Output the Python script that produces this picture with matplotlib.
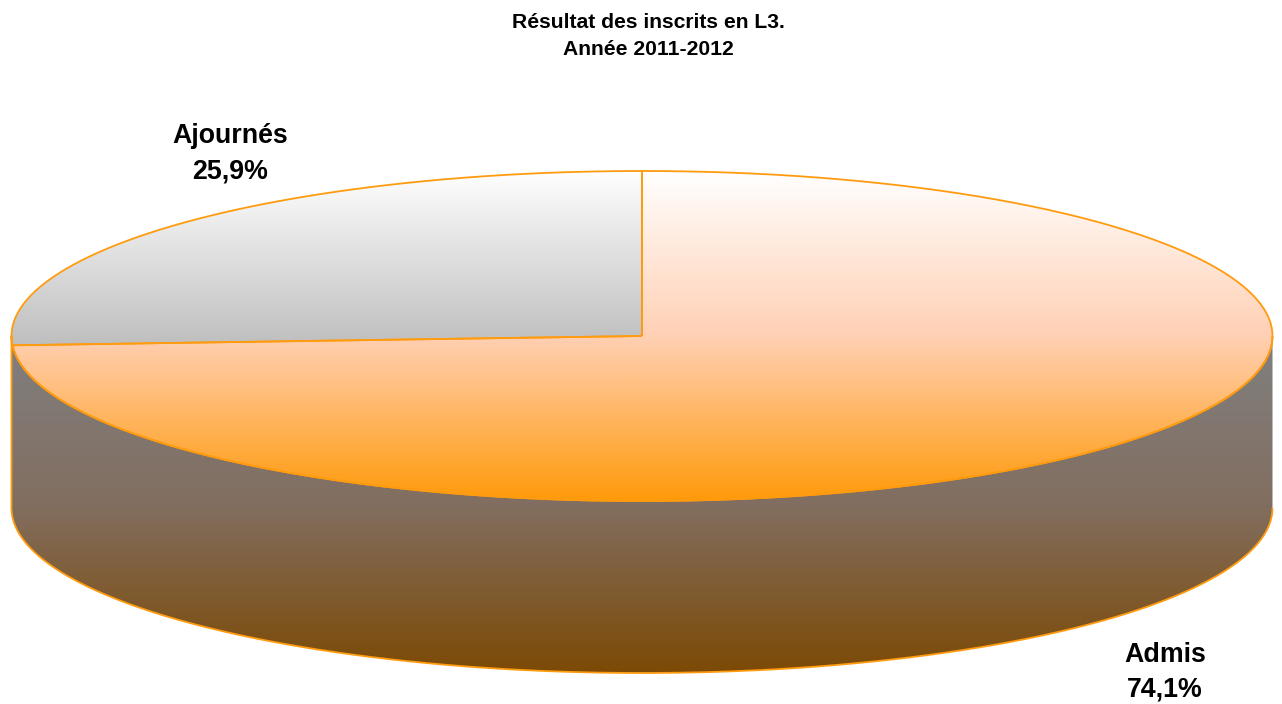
import numpy as np
import matplotlib.pyplot as plt
from matplotlib.path import Path
from matplotlib.patches import PathPatch
from matplotlib.colors import LinearSegmentedColormap

plt.rcParams['font.family'] = ['Liberation Sans', 'DejaVu Sans']

title = 'Résultat des inscrits en L3.\nAnnée 2011-2012'
categories = ['Admis', 'Ajournés']
values = [74.1, 25.9]
value_labels = ['74,1%', '25,9%']

# ellipse of the pie, in pixels
cx, cy = 642, 336
rx, ry = 630.5, 165
depth = 172
edge = '#FF9B0F'

fig = plt.figure(figsize=(12.82, 7.04), dpi=100)
ax = fig.add_axes([0, 0, 1, 1])
ax.set_xlim(0, 1282)
ax.set_ylim(704, 0)
ax.axis('off')


def ell(a):
    # a is clockwise from 12 o'clock, in degrees
    t = np.radians(a)
    return cx + rx * np.sin(t), cy - ry * np.cos(t)


def gradient(y0, y1, colors, patch):
    cmap = LinearSegmentedColormap.from_list('g', colors)
    im = ax.imshow(np.linspace(0, 1, 256).reshape(-1, 1), cmap=cmap, aspect='auto',
                   extent=[0, 1282, y1, y0], zorder=1, interpolation='bilinear')
    im.set_clip_path(patch)


def poly(x, y):
    pts = np.column_stack([x, y])
    return PathPatch(Path(pts), fc='none', ec=edge, lw=1.3, zorder=2, joinstyle='round')


# slices go clockwise from 12 o'clock
end = 360 * values[0] / sum(values)

# side wall
a = np.linspace(90, 270, 300)
x, y = ell(a)
side = poly(np.r_[x, x[::-1]], np.r_[y + depth, y[::-1]])
ax.add_patch(side)
gradient(336, 673, ['#808080', '#826E60', '#7C4A05'], side)

# Admis, top face
a = np.linspace(0, end, 400)
x, y = ell(a)
big = poly(np.r_[cx, x, cx], np.r_[cy, y, cy])
ax.add_patch(big)
gradient(171, 501, ['#FFFFFF', '#FFD0B4', '#FF9A0A'], big)

# Ajournes, top face
a = np.linspace(end, 360, 200)
x, y = ell(a)
small = poly(np.r_[cx, x, cx], np.r_[cy, y, cy])
ax.add_patch(small)
gradient(171, 346, ['#FFFFFF', '#BEBEBE'], small)

ax.text(648, 36, title, ha='center', va='center', fontsize=15.2, fontweight='bold', linespacing=1.5)
ax.text(1165, 672, categories[0] + '\n' + value_labels[0], ha='center', va='center',
        fontsize=19.3, fontweight='bold', linespacing=1.44)
ax.text(230, 154, categories[1] + '\n' + value_labels[1], ha='center', va='center',
        fontsize=19.3, fontweight='bold', linespacing=1.48)

fig.savefig('out.png', dpi=100)
